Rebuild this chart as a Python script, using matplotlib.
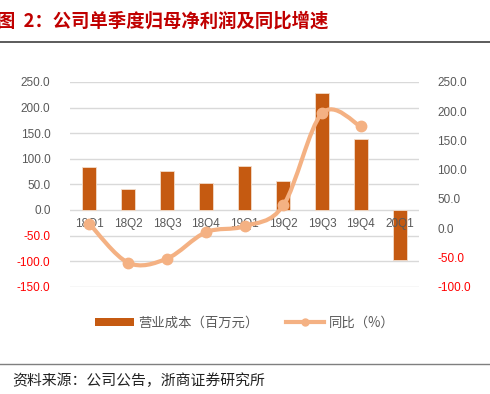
import numpy as np
import matplotlib
matplotlib.use("Agg")
import matplotlib.pyplot as plt
from matplotlib.path import Path
from matplotlib.patches import PathPatch
from matplotlib.lines import Line2D
from matplotlib.patches import Patch

plt.rcParams['font.family'] = ['Liberation Sans', 'Noto Sans CJK SC', 'DejaVu Sans']

# data
quarters = ['18Q1', '18Q2', '18Q3', '18Q4', '19Q1', '19Q2', '19Q3', '19Q4', '20Q1']
cost = [84.4, 41.2, 76.5, 51.7, 86.3, 57.0, 228.4, 138.0, -98.7]
yoy = [7.5, -59.0, -52.0, -7.0, 3.4, 39.0, 196.6, 174.0]

left_ticks = [250, 200, 150, 100, 50, 0, -50, -100, -150]
right_ticks = [250, 200, 150, 100, 50, 0, -50, -100]

bar_color = '#C55A11'
line_color = '#F4B183'
gray_txt = '#595959'
red_txt = '#FF0000'


def smooth_path(xs, ys, t=1/6.):
    # excel-like smooth line: cubic bezier through every point
    pts = np.column_stack([xs, ys]).astype(float)
    n = len(pts)
    verts = [pts[0]]
    codes = [Path.MOVETO]
    for i in range(n - 1):
        p_prev = pts[i - 1] if i > 0 else pts[i]
        p_next2 = pts[i + 2] if i + 2 < n else pts[i + 1]
        c1 = pts[i] + (pts[i + 1] - p_prev) * t
        c2 = pts[i + 1] - (p_next2 - pts[i]) * t
        verts += [c1, c2, pts[i + 1]]
        codes += [Path.CURVE4] * 3
    return Path(verts, codes)


fig = plt.figure(figsize=(4.9, 3.94), dpi=100)
ax = fig.add_axes([70 / 490, 1 - 286.7 / 394, 349 / 490, 204.7 / 394])
ax2 = ax.twinx()

x = np.arange(len(quarters))
# tick labels above the bars, grid below them
ax.set_axisbelow(False)
for v in left_ticks:
    ax.axhline(v, color='#D9D9D9', linewidth=1.0, zorder=0.5)
ax.bar(x, cost, width=0.36, color=bar_color, edgecolor='#F2DCCB', linewidth=0.6, zorder=1)
ax.set_xlim(-0.5, len(quarters) - 0.5)
ax.set_ylim(-150, 250)
ax.set_yticks(left_ticks)
ax.set_yticklabels(['%.1f' % v for v in left_ticks])
for lab, v in zip(ax.get_yticklabels(), left_ticks):
    lab.set_color(red_txt if v < 0 else gray_txt)
ax.tick_params(axis='y', length=0, pad=14, labelsize=8.5)
ax.spines['bottom'].set_position(('data', 0))
for s in ax.spines.values():
    s.set_visible(False)
ax.set_xticks(x)
ax.set_xticklabels(quarters)
ax.tick_params(axis='x', length=0, pad=6, labelsize=8.5, labelcolor=gray_txt)

ax2.set_ylim(-100, 250)
ax2.set_yticks(right_ticks)
ax2.set_yticklabels(['%.1f' % v for v in right_ticks])
for lab, v in zip(ax2.get_yticklabels(), right_ticks):
    lab.set_color(red_txt if v < 0 else gray_txt)
ax2.tick_params(axis='y', length=0, pad=13, labelsize=8.5)
for s in ax2.spines.values():
    s.set_visible(False)

xl = x[:len(yoy)]
ax2.add_patch(PathPatch(smooth_path(xl, yoy), facecolor='none', edgecolor=line_color,
                        linewidth=3, capstyle='round', zorder=3))
ax2.plot(xl, yoy, linestyle='none', marker='o', markersize=7.5,
         color=line_color, zorder=4)

# legend
handles = [Patch(facecolor=bar_color, edgecolor='none'),
           Line2D([], [], color=line_color, linewidth=3, marker='o', markersize=5)]
fig.legend(handles, ['营业成本（百万元）', '同比（%）'], loc='center',
           bbox_to_anchor=(0.5, 1 - 322.7 / 394), ncol=2, frameon=False,
           labelcolor=gray_txt, handlelength=2.9, handleheight=0.5,
           columnspacing=2.0, handletextpad=0.35,
           prop={'family': ['Noto Sans CJK SC', 'DejaVu Sans'], 'size': 9.6})

# title, rules and source
fig.text(-0.006, 1 - 21 / 394, '图  2：公司单季度归母净利润及同比增速', color='#C00000',
         fontsize=13.2, fontweight='bold', va='center', ha='left',
         family=['Noto Sans CJK SC', 'DejaVu Sans'])
fig.add_artist(Line2D([0, 1], [1 - 42 / 394] * 2, color='#404040', linewidth=1.2))
fig.add_artist(Line2D([0, 1], [1 - 364 / 394] * 2, color='#7F7F7F', linewidth=1.0))
fig.text(12 / 490, 1 - 381 / 394, '资料来源：公司公告，浙商证券研究所', color='#222222',
         fontsize=10.7, va='center', ha='left',
         family=['Noto Sans CJK SC', 'DejaVu Sans'])

fig.savefig('out.png', dpi=100)
